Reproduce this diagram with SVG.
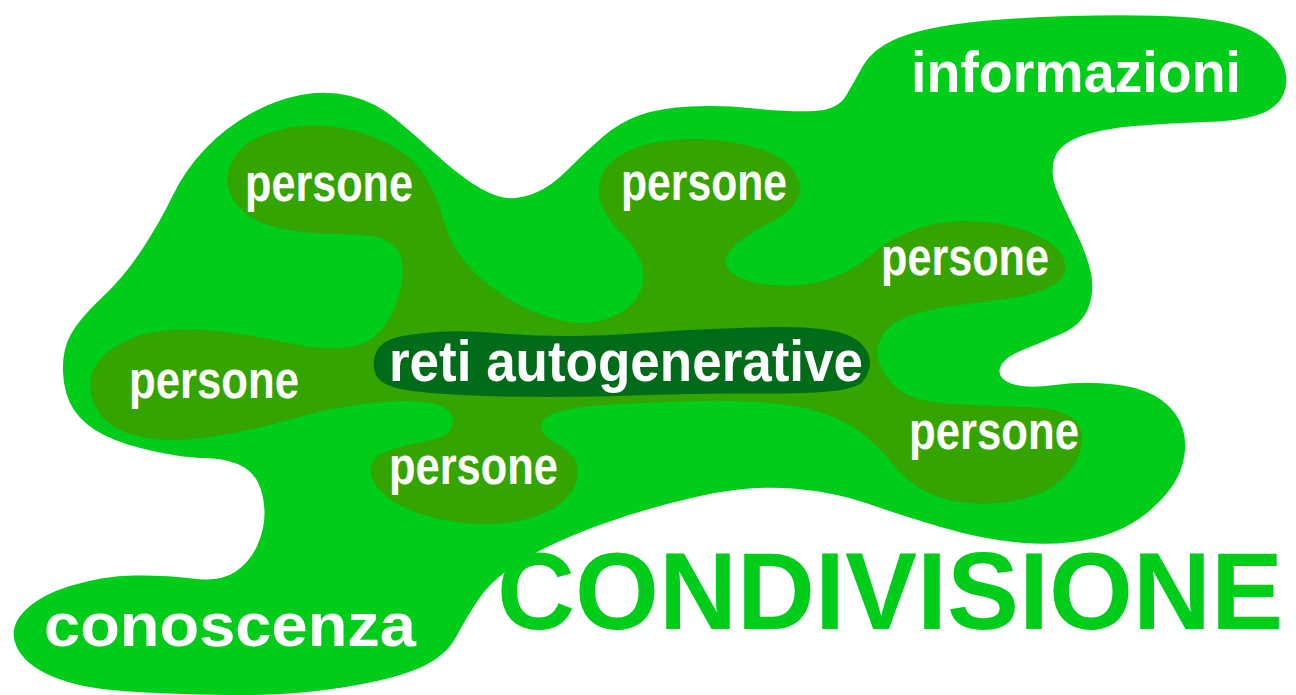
<svg xmlns="http://www.w3.org/2000/svg" width="1296" height="695" viewBox="0 0 1296 695">
<style>
.lt{fill:#00cc1a}
.md{fill:#34a500}
.dk{fill:#006c1a}
text{font-family:"Liberation Sans",Arial,Helvetica,sans-serif;font-weight:bold}
.w{fill:#ffffff}
.p{font-size:51px}
</style>
<rect width="1296" height="695" fill="#ffffff"/>
<g id="outer-blob">
<path class="lt" d="M74,410 Q64,395 63,372.5 Q62,350 71,334 Q80,318 102,297.5 Q124,277 142,249.5 Q160,222 172.5,196 Q185,170 205,149 Q225,128 250,114 Q275,100 300.5,95 Q326,90 350.5,96 Q375,102 395,118.5 Q415,135 435,153.5 Q455,172 472.5,183.5 Q490,195 504,197.5 Q518,200 535,193 Q552,186 568.5,169 Q585,152 602.5,137 Q620,122 640,115 Q660,108 690,106.5 Q720,105 755,108.5 Q790,112 814,111 Q838,110 846.5,95 Q855,80 863.5,65 Q872,50 893.5,40 Q915,30 957.5,24 Q1000,18 1070,16 Q1140,14 1184,17 Q1228,20 1250,30 Q1272,40 1281,59 Q1290,78 1284,93 Q1278,108 1259,114.5 Q1240,121 1205,122 Q1170,123 1135,126 Q1100,129 1079,137 Q1058,145 1054,160 Q1050,175 1057.5,192.5 Q1065,210 1075.5,231 Q1086,252 1090.5,271 Q1095,290 1088.5,307.5 Q1082,325 1061,334 Q1040,343 1021.5,350.5 Q1003,358 1000,368 Q997,378 1011,383.5 Q1025,389 1055,385 Q1085,381 1115,384.5 Q1145,388 1161.5,400 Q1178,412 1183,429.5 Q1188,447 1181.5,467.5 Q1175,488 1151.5,509 Q1128,530 1095,538 Q1062,546 1023.5,543 Q985,540 942.5,527.5 Q900,515 867.5,503.5 Q835,492 792.5,488.5 Q750,485 700,496 Q650,507 602.5,524 Q555,541 524,559.5 Q493,578 479.5,598 Q466,618 456,637 Q446,656 420.5,667.5 Q395,679 342.5,687.5 Q290,696 227.5,695 Q165,694 122.5,691 Q80,688 52.5,676.5 Q25,665 16.5,646.5 Q8,628 24,611.5 Q40,595 71.5,585.5 Q103,576 134,575.5 Q165,575 192.5,578.5 Q220,582 235,572 Q250,562 257.5,545 Q265,528 264.5,511.5 Q264,495 258,482.5 Q252,470 237.5,464 Q223,458 204.5,458 Q186,458 155,451.5 Q124,445 104,435 Q84,425 74,410 Z"/>
</g>
<g id="persone-network">
<path class="md" d="M236,203.5 Q222,185 231,163.5 Q240,142 270,132.5 Q300,123 331,126.5 Q362,130 387,143 Q412,156 424.5,175.5 Q437,195 442.5,216.5 Q448,238 460,255 Q472,272 490,286 Q508,300 530,310 Q552,320 572,322.5 Q592,325 611,317.5 Q630,310 638,296 Q646,282 642,266 Q638,250 625,237 Q612,224 604,210 Q596,196 600.5,179.5 Q605,163 625,152.5 Q645,142 678.5,139.5 Q712,137 746,145 Q780,153 792.5,169 Q805,185 797.5,199 Q790,213 766,225 Q742,237 731,249.5 Q720,262 731,272 Q742,282 771,285 Q800,288 826,280 Q852,272 871,255 Q890,238 917.5,228.5 Q945,219 980,221.5 Q1015,224 1038.5,236 Q1062,248 1065,263 Q1068,278 1049,287.5 Q1030,297 991,301 Q952,305 924,311.5 Q896,318 885,332 Q874,346 879,362 Q884,378 899.5,390 Q915,402 952.5,404 Q990,406 1026,407 Q1062,408 1073.5,419 Q1085,430 1081.5,447 Q1078,464 1061.5,479.5 Q1045,495 1015,500.5 Q985,506 959.5,502 Q934,498 918.5,487.5 Q903,477 890.5,461.5 Q878,446 861.5,433 Q845,420 819,412 Q793,404 756.5,402 Q720,400 680,401.5 Q640,403 610,404.5 Q580,406 561.5,411 Q543,416 541.5,425 Q540,434 551,440 Q562,446 570.5,454 Q579,462 577.5,476.5 Q576,491 560.5,503.5 Q545,516 517.5,521 Q490,526 464,523 Q438,520 416.5,512.5 Q395,505 382,492.5 Q369,480 371,467.5 Q373,455 391.5,449.5 Q410,444 428.5,440.5 Q447,437 451.5,427.5 Q456,418 448,410.5 Q440,403 417.5,401.5 Q395,400 362.5,404 Q330,408 290,419.5 Q250,431 210,437 Q170,443 140,436.5 Q110,430 98.5,412 Q87,394 91.5,376 Q96,358 118,345 Q140,332 170,330 Q200,328 230,332.5 Q260,337 291,343.5 Q322,350 346,347.5 Q370,345 383,327.5 Q396,310 400.5,289 Q405,268 400.5,255.5 Q396,243 382,238.5 Q368,234 338,234 Q308,234 279,228 Q250,222 236,203.5 Z"/>
</g>
<g id="reti-autogenerative">
<path class="dk" d="M375.5,374 Q372,365 375,355 Q378,345 389,340 Q400,335 430,332.5 Q460,330 495,333 Q530,336 565,336 Q600,336 650,332.5 Q700,329 750,327.5 Q800,326 825,329.5 Q850,333 860,342.5 Q870,352 870,362 Q870,372 863.5,380.5 Q857,389 828.5,391.5 Q800,394 750,393.5 Q700,393 650,395 Q600,397 547.5,397 Q495,397 452.5,394.5 Q410,392 394.5,387.5 Q379,383 375.5,374 Z"/>
<text class="w" x="389" y="381" font-size="57" textLength="474" lengthAdjust="spacingAndGlyphs">reti autogenerative</text>
</g>
<g id="persone-1"><text class="w p" x="245" y="201" textLength="168" lengthAdjust="spacingAndGlyphs">persone</text></g>
<g id="persone-2"><text class="w p" x="621" y="200" textLength="166" lengthAdjust="spacingAndGlyphs">persone</text></g>
<g id="persone-3"><text class="w p" x="881" y="275" textLength="168" lengthAdjust="spacingAndGlyphs">persone</text></g>
<g id="persone-4"><text class="w p" x="129" y="398" textLength="170" lengthAdjust="spacingAndGlyphs">persone</text></g>
<g id="persone-5"><text class="w p" x="389" y="484" textLength="169" lengthAdjust="spacingAndGlyphs">persone</text></g>
<g id="persone-6"><text class="w p" x="909" y="449" textLength="170" lengthAdjust="spacingAndGlyphs">persone</text></g>
<g id="informazioni"><text class="w" x="911" y="92" font-size="57" textLength="330" lengthAdjust="spacingAndGlyphs">informazioni</text></g>
<g id="conoscenza"><text class="w" x="44" y="646" font-size="62" textLength="372" lengthAdjust="spacingAndGlyphs">conoscenza</text></g>
<g id="condivisione"><text class="lt" x="497" y="629" font-size="110" textLength="786" lengthAdjust="spacingAndGlyphs">CONDIVISIONE</text></g>
</svg>
